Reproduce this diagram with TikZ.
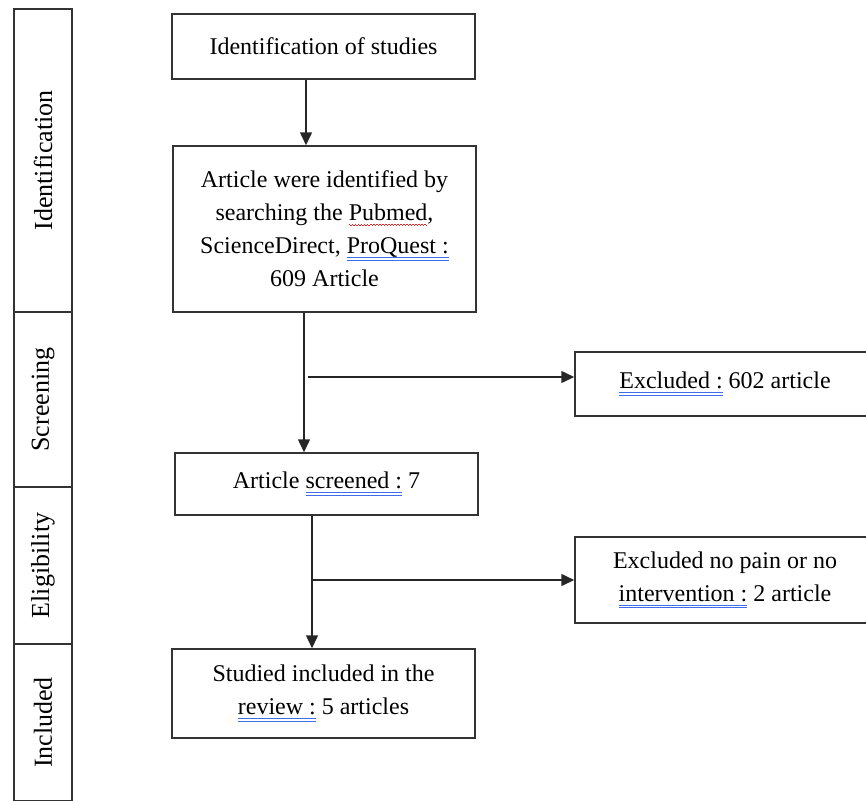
\documentclass[tikz,border=0pt]{standalone}
\usepackage{fontspec}
\setmainfont{Liberation Serif}
\usetikzlibrary{arrows.meta}
\definecolor{gramblue}{RGB}{60,110,235}
\definecolor{spellred}{RGB}{230,30,30}
\newcommand\redwave[1]{\setbox0\hbox{#1}\rlap{\textcolor{spellred}{\hbox to\wd0{\xleaders\hbox{\raisebox{-4pt}{\rule{1.5pt}{1pt}}\raisebox{-5.4pt}{\rule{1.5pt}{1pt}}}\hfill}}}\box0\relax}
\newcommand\blueul[1]{\setbox0\hbox{#1}\rlap{\textcolor{gramblue}{\raisebox{-4.5pt}{\rule{\wd0}{1pt}}}}\rlap{\textcolor{gramblue}{\raisebox{-6.8pt}{\rule{\wd0}{1pt}}}}\box0\relax}
\begin{document}
\begin{tikzpicture}[x=1pt,y=-1pt,
  stage/.style={draw=black!80,line width=1.5pt,rotate=90,minimum height=58pt,inner sep=0pt,font=\fontsize{26}{30}\selectfont},
  box/.style={draw=black!80,line width=1.5pt,minimum width=303pt,inner sep=0pt,align=center,font=\fontsize{24}{33}\selectfont},
  flow/.style={draw=black!85,line width=1.5pt,-{Triangle[length=13pt,width=12pt]}}]
  \clip (0,0) rectangle (866,800);

  \node[stage,minimum width=303pt] (idstage) at (43,160.5) {Identification};
  \node[stage,minimum width=175pt] (scrstage) at (43,399.5) {Screening};
  \node[stage,minimum width=157pt] (elstage) at (43,565.5) {Eligibility};
  \node[stage,minimum width=157pt] (incstage) at (43,722.5) {Included};

  \node[box,minimum height=65pt] (idstudy) at (323.5,46.5) {Identification of studies};
  \node[box,minimum height=166pt] (search) at (324.5,229) {Article were identified by\\searching the \redwave{Pubmed},\\ScienceDirect, \blueul{ProQuest :}\\609 Article};
  \node[box,minimum height=62pt] (screen) at (326.5,484) {Article \blueul{screened :} 7};
  \node[box,minimum height=89pt] (incl) at (323.5,693.5) {Studied included in the\\\blueul{review :} 5 articles};
  \node[box,minimum width=300pt,minimum height=64pt] (excl1) at (725,384) {\blueul{Excluded :} 602 article};
  \node[box,minimum width=300pt,minimum height=86pt] (excl2) at (725,580) {Excluded no pain or no\\\blueul{intervention :} 2 article};

  \draw[flow] ([xshift=-17.5pt]idstudy.south) -- ([xshift=-18.5pt]search.north);
  \draw[flow] ([xshift=-20.5pt]search.south) -- ([xshift=-22.5pt]screen.north);
  \draw[flow] ([xshift=-14.5pt]screen.south) -- ([xshift=-11.5pt]incl.north);

  \coordinate (fork1) at (308,377);
  \coordinate (fork2) at (312,580);
  \draw[flow] (fork1) -- ([yshift=7pt]excl1.west);
  \draw[flow] (fork2) -- (excl2.west);
\end{tikzpicture}
\end{document}
